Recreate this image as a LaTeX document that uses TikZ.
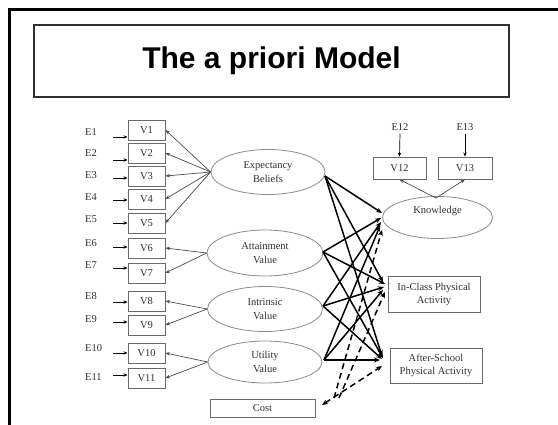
\documentclass[tikz,border=0pt]{standalone}
\usepackage{fontspec}
\setmainfont{Liberation Serif}
\newfontfamily\titlefont{Liberation Sans}
\usetikzlibrary{arrows.meta,shapes.geometric}

\definecolor{boxgray}{HTML}{6A6A6A}
\definecolor{ellgray}{HTML}{8A8A8A}
\definecolor{inkgray}{HTML}{303030}

\begin{document}
\begin{tikzpicture}[x=1pt,y=-1pt,
  obs/.style={draw=boxgray, line width=0.9pt, minimum width=37pt, minimum height=20pt,
    inner sep=0pt, text=inkgray, font=\fontsize{10.5}{11.5}\selectfont},
  outbox/.style={draw=boxgray, line width=0.9pt, inner sep=0pt, align=center,
    text=inkgray, font=\fontsize{10.5}{13}\selectfont},
  lat/.style={ellipse, draw=ellgray, line width=0.8pt, inner sep=0pt, align=center,
    text=inkgray, font=\fontsize{10.5}{13.5}\selectfont},
  errlab/.style={anchor=west, inner sep=0pt, text=inkgray, font=\fontsize{10.5}{11.5}\selectfont},
  errarrow/.style={-{Stealth[length=4pt,width=3.5pt]}, line width=0.7pt, draw=black},
  loading/.style={-{Stealth[length=4.5pt,width=3.5pt]}, line width=0.7pt, draw=black!70},
  effect/.style={-{Stealth[length=6pt,width=5pt]}, line width=1.5pt, draw=black},
  costeffect/.style={effect, dash pattern=on 6pt off 4pt},
]
\useasboundingbox (0,0) rectangle (558,424);

% slide frame and title
\draw[line width=3pt] (9.7,440) -- (9.7,9.7) -- (570,9.7);
\node[draw=inkgray, line width=1.3pt, minimum width=475pt, minimum height=72pt,
  inner sep=0pt, font=\titlefont\bfseries\fontsize{30}{36}\selectfont] (title)
  at (271.5,61) {The a priori Model};

% observed indicators
\foreach \n/\y in {1/130,2/153,3/176,4/199,5/223,6/248,7/273,8/301,9/325,10/353,11/378}
  \node[obs] (v\n) at (146.5,\y) {V\n};

% error terms and their arrows
\foreach \n/\ly/\ay in {1/132/137,2/153/160,3/175/178,4/197/200,5/219/223,6/243/247,
                        7/265/268,8/296/302,9/319/322,10/348/353,11/377/375}{
  \node[errlab] (e\n) at (85,\ly) {E\n};
  \coordinate (ea\n) at (113,\ay);
  \draw[errarrow] (ea\n) -- (ea\n -| v\n.west);
}

% latent predictors
\node[lat, minimum width=114pt, minimum height=45pt] (eb) at (268,172) {Expectancy\\Beliefs};
\node[lat, minimum width=116pt, minimum height=46pt] (av) at (265,253) {Attainment\\Value};
\node[lat, minimum width=115pt, minimum height=45pt] (iv) at (265,309) {Intrinsic\\Value};
\node[lat, minimum width=114pt, minimum height=42pt] (uv) at (265,362) {Utility\\Value};
\node[outbox, minimum width=105pt, minimum height=18pt] (cost) at (262.5,408) {Cost};

% loadings
\foreach \v in {1,...,5} \draw[loading] (eb.west) -- (v\v.east);
\foreach \v in {6,7} \draw[loading] (av.west) -- (v\v.east);
\foreach \v in {8,9} \draw[loading] (iv.west) -- (v\v.east);
\foreach \v in {10,11} \draw[loading] (uv.west) -- (v\v.east);

% outcomes
\node[lat, minimum width=110pt, minimum height=42pt] (kn) at (437.5,217.5) {Knowledge\\[-3pt]\strut};
\node[obs, minimum width=53pt, minimum height=22pt] (v12) at (399.5,168) {V12};
\node[obs, minimum width=54pt, minimum height=22pt] (v13) at (465,168) {V13};
\node[errlab, anchor=center] (e12) at (400,127) {E12};
\node[errlab, anchor=center] (e13) at (465,127) {E13};
\draw[errarrow] (e12.south) ++(0,3) coordinate (ea12) -- (v12.north);
\draw[errarrow] (e13.south) ++(0,3) coordinate (ea13) -- (v13.north);
\coordinate (kntop) at (436,198);
\draw[loading] (kntop) -- (v12.south);
\draw[loading] (kntop) -- (v13.south);

\node[outbox, minimum width=92pt, minimum height=36pt] (ic) at (434,294) {In-Class Physical\\Activity};
\node[outbox, minimum width=92pt, minimum height=35pt] (as) at (436,365.5) {After-School\\Physical Activity};

% arrow end points beside the outcomes
\coordinate (k1) at (382,213); \coordinate (k2) at (381,218);
\coordinate (k3) at (381,222); \coordinate (k4) at (380,226); \coordinate (k5) at (382,230);
\coordinate (c1) at (383,282); \coordinate (c2) at (385,284);
\coordinate (c3) at (384,287); \coordinate (c4) at (383,290); \coordinate (c5) at (385,292);
\coordinate (a1) at (382,356); \coordinate (a2) at (383,358);
\coordinate (a3) at (382,359); \coordinate (a4) at (380,360); \coordinate (a5) at (382,366);

% predictor start points
\coordinate (ebo) at (325,176);
\coordinate (avo) at (323,252);
\coordinate (ivo) at (323,306);
\coordinate (uvo) at (324,360);
\coordinate (cs1) at (334,398);
\coordinate (cs2) at (339,398);
\coordinate (cs3) at (322,405);

% structural paths
\draw[effect] (ebo) -- (k1);
\draw[effect] (ebo) -- (c1);
\draw[effect] (ebo) -- (a1);
\draw[effect] (avo) -- (k2);
\draw[effect] (avo) -- (c2);
\draw[effect] (avo) -- (a2);
\draw[effect] (ivo) -- (k3);
\draw[effect] (ivo) -- (c3);
\draw[effect] (ivo) -- (a3);
\draw[effect] (uvo) -- (k4);
\draw[effect] (uvo) -- (c4);
\draw[effect] (uvo) -- (a4);
\draw[costeffect] (cs1) -- (k5);
\draw[costeffect] (cs2) -- (c5);
\draw[costeffect, {Stealth[length=6pt,width=5pt]}-{Stealth[length=6pt,width=5pt]}] (cs3) -- (a5);
\end{tikzpicture}
\end{document}
